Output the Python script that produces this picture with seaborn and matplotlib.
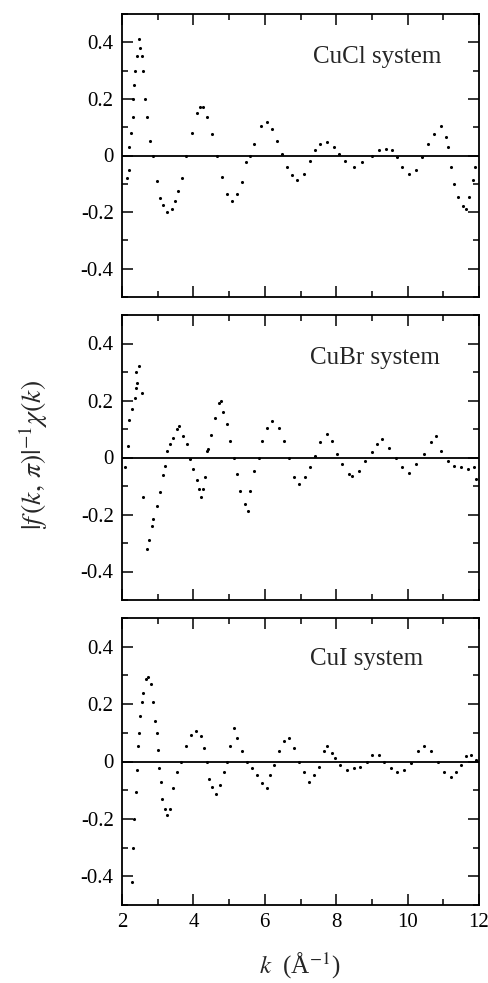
import numpy as np
import pandas as pd
import matplotlib
matplotlib.use("Agg")
import matplotlib.pyplot as plt
from matplotlib.ticker import MultipleLocator
import seaborn as sns

# ---------------- data ----------------
k_cucl = [2.13, 2.19, 2.21, 2.24, 2.30, 2.32, 2.34, 2.37, 2.41, 2.47, 2.51, 2.55, 2.60, 2.65,
          2.71, 2.79, 2.86, 2.97, 3.07, 3.16, 3.27, 3.39, 3.49, 3.58, 3.68, 3.80, 3.96, 4.10,
          4.19, 4.27, 4.38, 4.52, 4.66, 4.80, 4.94, 5.08, 5.22, 5.36, 5.48, 5.59, 5.71, 5.88,
          6.06, 6.20, 6.34, 6.48, 6.62, 6.77, 6.91, 7.10, 7.28, 7.42, 7.56, 7.75, 7.93, 8.08,
          8.26, 8.50, 8.73, 9.01, 9.20, 9.39, 9.57, 9.71, 9.85, 10.04, 10.23, 10.41, 10.56,
          10.74, 10.93, 11.07, 11.12, 11.21, 11.30, 11.40, 11.54, 11.63, 11.73, 11.82, 11.88]
chi_cucl = [-0.08, -0.05, 0.03, 0.08, 0.135, 0.20, 0.25, 0.30, 0.35, 0.41, 0.38, 0.35, 0.30, 0.20,
            0.135, 0.05, 0.0, -0.09, -0.15, -0.176, -0.20, -0.188, -0.16, -0.124, -0.08, 0.0, 0.08, 0.15,
            0.17, 0.172, 0.135, 0.076, 0.0, -0.076, -0.135, -0.16, -0.135, -0.094, -0.024, 0.0, 0.04, 0.105,
            0.118, 0.094, 0.053, 0.006, -0.04, -0.07, -0.088, -0.065, -0.018, 0.018, 0.041, 0.047, 0.03, 0.006,
            -0.018, -0.041, -0.024, 0.0, 0.018, 0.024, 0.018, -0.006, -0.041, -0.065, -0.053, -0.006, 0.041,
            0.076, 0.106, 0.065, 0.03, -0.04, -0.10, -0.147, -0.18, -0.19, -0.147, -0.088, -0.04]

k_cubr = [2.08, 2.16, 2.20, 2.27, 2.37, 2.38, 2.40, 2.43, 2.49, 2.55, 2.58, 2.71, 2.77, 2.83,
          2.88, 2.97, 3.07, 3.14, 3.21, 3.25, 3.35, 3.44, 3.54, 3.59, 3.70, 3.82, 3.91, 4.00,
          4.10, 4.16, 4.20, 4.27, 4.33, 4.38, 4.42, 4.50, 4.61, 4.73, 4.77, 4.83, 4.94, 5.03,
          5.13, 5.22, 5.31, 5.45, 5.52, 5.59, 5.69, 5.83, 5.92, 6.06, 6.20, 6.39, 6.53, 6.67,
          6.81, 6.95, 7.14, 7.28, 7.42, 7.56, 7.75, 7.89, 8.03, 8.17, 8.36, 8.45, 8.64, 8.82,
          9.01, 9.15, 9.29, 9.48, 9.67, 9.85, 10.04, 10.23, 10.46, 10.65, 10.79, 10.93, 11.12,
          11.30, 11.49, 11.68, 11.87, 11.91]
chi_cubr = [-0.035, 0.04, 0.13, 0.17, 0.21, 0.245, 0.30, 0.26, 0.32, 0.225, -0.14, -0.32, -0.29, -0.24,
            -0.215, -0.17, -0.12, -0.06, -0.03, 0.023, 0.047, 0.07, 0.10, 0.11, 0.076, 0.047, -0.006, -0.04,
            -0.08, -0.11, -0.14, -0.11, -0.07, 0.023, 0.03, 0.08, 0.14, 0.19, 0.20, 0.158, 0.117, 0.058,
            0.0, -0.058, -0.117, -0.164, -0.187, -0.117, -0.047, 0.0, 0.058, 0.105, 0.129, 0.105, 0.058, 0.0,
            -0.07, -0.094, -0.07, -0.035, 0.006, 0.053, 0.082, 0.058, 0.012, -0.023, -0.058, -0.064, -0.047, -0.012,
            0.018, 0.047, 0.064, 0.035, 0.0, -0.035, -0.053, -0.023, 0.012, 0.053, 0.076, 0.023, -0.012,
            -0.03, -0.035, -0.04, -0.035, -0.076]

k_cui = [2.29, 2.32, 2.34, 2.38, 2.41, 2.45, 2.49, 2.51, 2.55, 2.60, 2.66, 2.73, 2.81, 2.86,
         2.92, 2.97, 3.01, 3.04, 3.09, 3.13, 3.20, 3.25, 3.35, 3.44, 3.55, 3.65, 3.79, 3.93,
         4.07, 4.21, 4.30, 4.37, 4.45, 4.52, 4.64, 4.75, 4.85, 4.94, 5.03, 5.13, 5.22, 5.36,
         5.50, 5.64, 5.78, 5.92, 6.06, 6.15, 6.25, 6.39, 6.53, 6.67, 6.81, 6.95, 7.09, 7.23,
         7.37, 7.51, 7.65, 7.75, 7.89, 7.98, 8.12, 8.31, 8.50, 8.68, 8.87, 9.01, 9.20, 9.34,
         9.53, 9.71, 9.90, 10.09, 10.28, 10.46, 10.65, 10.84, 11.03, 11.21, 11.35, 11.49, 11.63,
         11.77, 11.91]
chi_cui = [-0.42, -0.30, -0.20, -0.106, -0.03, 0.053, 0.10, 0.159, 0.206, 0.24, 0.288, 0.296, 0.27, 0.206,
           0.141, 0.10, 0.041, -0.024, -0.07, -0.13, -0.165, -0.188, -0.165, -0.094, -0.035, 0.0, 0.053, 0.094,
           0.106, 0.088, 0.047, 0.0, -0.06, -0.088, -0.112, -0.082, -0.035, 0.0, 0.053, 0.118, 0.082, 0.035,
           0.0, -0.024, -0.047, -0.076, -0.094, -0.047, -0.012, 0.035, 0.07, 0.082, 0.047, 0.0, -0.035, -0.07,
           -0.047, -0.018, 0.035, 0.053, 0.03, 0.012, -0.012, -0.03, -0.024, -0.018, 0.0, 0.024, 0.024, 0.0,
           -0.024, -0.035, -0.03, -0.006, 0.035, 0.053, 0.035, 0.0, -0.035, -0.053, -0.035, -0.012, 0.018,
           0.024, 0.006]

panel_labels = ["CuCl system", "CuBr system", "CuI system"]
x_ticks = [2, 4, 6, 8, 10, 12]
x_tick_labels = ["2", "4", "6", "8", "10", "12"]
y_ticks = [-0.4, -0.2, 0.0, 0.2, 0.4]
y_tick_labels = ["-0.4", "-0.2", "0", "0.2", "0.4"]

# ---------------- style ----------------
sns.set_style("ticks")
plt.rcParams["font.family"] = ["Liberation Serif", "DejaVu Serif"]
plt.rcParams["mathtext.fontset"] = "stix"

W, H = 489, 983
fig = plt.figure(figsize=(W / 100, H / 100), dpi=100)

# axes boxes in pixels: (top, bottom)
left_px, right_px = 122, 479
boxes = [(14, 297), (315, 600), (618, 905)]

series = [(k_cucl, chi_cucl), (k_cubr, chi_cubr), (k_cui, chi_cui)]
label_pos = [(7.34, 0.328), (7.28, 0.327), (7.28, 0.335)]

for i, ((top, bot), (kk, cc)) in enumerate(zip(boxes, series)):
    ax = fig.add_axes([left_px / W, 1 - bot / H, (right_px - left_px) / W, (bot - top) / H])
    df = pd.DataFrame({"k": kk, "chi": cc})
    sns.scatterplot(data=df, x="k", y="chi", ax=ax, s=5, color="black",
                    linewidth=0, legend=False)
    ax.axhline(0, color="black", lw=1.3, zorder=1)
    ax.set_xlim(2, 12)
    ax.set_ylim(-0.5, 0.5)
    ax.set_xticks(x_ticks)
    ax.set_yticks(y_ticks)
    ax.set_yticklabels(y_tick_labels)
    ax.xaxis.set_minor_locator(MultipleLocator(1))
    ax.yaxis.set_minor_locator(MultipleLocator(0.1))
    ax.tick_params(which="both", direction="in", top=True, right=True, width=1.1,
                   labelsize=15, pad=6, colors="black")
    ax.tick_params(which="major", length=8)
    ax.tick_params(which="minor", length=4.5)
    if i < 2:
        ax.tick_params(labelbottom=False)
    else:
        ax.set_xticklabels(x_tick_labels)
    ax.set_xlabel("")
    ax.set_ylabel("")
    for sp in ax.spines.values():
        sp.set_linewidth(1.3)
        sp.set_color("black")
    lx, ly = label_pos[i]
    ax.text(lx, ly, panel_labels[i], fontsize=18, ha="left", va="baseline")

fig.text(33 / W, 1 - 455 / H, r"$|f\,(k,\,\pi)|^{-1}\chi(k)$", rotation=90,
         ha="center", va="center", fontsize=20)
fig.text(300 / W, 1 - 966 / H, r"$k$  (Å$^{-1}$)", ha="center", va="center", fontsize=18)

fig.savefig("out.png", dpi=100)
